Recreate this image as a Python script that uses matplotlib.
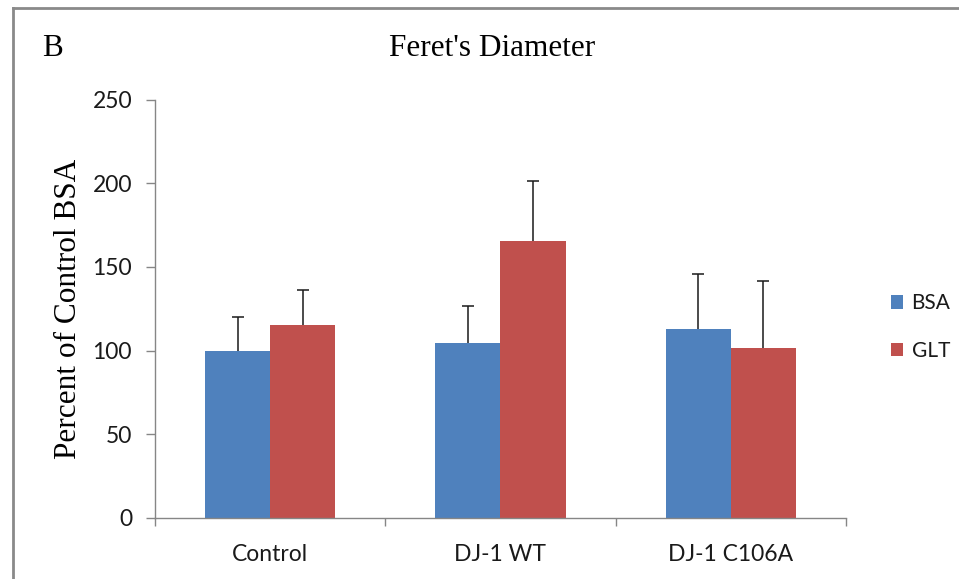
import matplotlib.pyplot as plt
from matplotlib.lines import Line2D
import numpy as np

groups = ['Control', 'DJ-1 WT', 'DJ-1 C106A']
series = ['BSA', 'GLT']
bsa_mean = [100, 104.5, 112.7]
bsa_err = [20.3, 22.0, 32.9]
glt_mean = [115.1, 165.7, 101.4]
glt_err = [21.3, 35.8, 40.4]
yticks = [0, 50, 100, 150, 200, 250]

blue = '#4F81BD'
red = '#C0504D'
axis_grey = '#868686'
text_col = '#1a1a1a'
serif = 'Liberation Serif'
sans = 'Lato'
tick_fs = 16.5

W, H = 959, 579
fig = plt.figure(figsize=(W / 100, H / 100), dpi=100)

# axes box placed in pixels
left, right, top, bottom = 155, 846, 99.5, 518
ax = fig.add_axes([left / W, (H - bottom) / H, (right - left) / W, (bottom - top) / H])

x = np.arange(len(groups))
w = 0.283
err_kw = dict(ecolor='#1a1a1a', elinewidth=1.1, capsize=4.6, capthick=1.1)
bars = [
    ax.bar(x - w / 2, bsa_mean, w, color=blue, label=series[0],
           yerr=[np.zeros(3), bsa_err], error_kw=err_kw, zorder=2),
    ax.bar(x + w / 2, glt_mean, w, color=red, label=series[1],
           yerr=[np.zeros(3), glt_err], error_kw=err_kw, zorder=2),
]
# only the upper cap is wanted
for b in bars:
    caps = b.errorbar.lines[1]
    caps[0].set_visible(False)

ax.set_xlim(-0.5, len(groups) - 0.5)
ax.set_ylim(0, 250)
ax.set_yticks(yticks)
ax.set_yticklabels([str(t) for t in yticks], fontfamily=sans, fontsize=tick_fs, color=text_col)
ax.set_xticks(x)
ax.set_xticklabels(groups, fontfamily=sans, fontsize=tick_fs, color=text_col)
ax.set_xticks(np.arange(len(groups) + 1) - 0.5, minor=True)
ax.tick_params(axis='x', which='major', length=0, pad=19)
ax.tick_params(axis='x', which='minor', length=6, width=1, color=axis_grey, direction='out')
ax.tick_params(axis='y', length=6.5, width=1, color=axis_grey, direction='out', pad=10)

for side in ['top', 'right']:
    ax.spines[side].set_visible(False)
for side in ['left', 'bottom']:
    ax.spines[side].set_color(axis_grey)
    ax.spines[side].set_linewidth(1)

ax.set_ylabel('Percent of Control BSA', fontfamily=serif, fontsize=22.5, color='black')
ax.yaxis.set_label_coords(-0.104, 0.5)

fig.text(492 / W, 1 - 48 / H, "Feret's Diameter", fontfamily=serif, fontsize=22.5,
         ha='center', va='center')
fig.text(42 / W, 1 - 48 / H, 'B', fontfamily=serif, fontsize=22.5, ha='left', va='center')

leg = ax.legend(loc='center left', bbox_to_anchor=(872 / W, 1 - 327 / H),
                bbox_transform=fig.transFigure, frameon=False,
                handlelength=0.6, handleheight=0.6, handletextpad=0.4,
                labelspacing=1.3, prop={'family': sans, 'size': 15})
for t in leg.get_texts():
    t.set_color(text_col)

# outer frame on left and top edges
fig.add_artist(Line2D([12.5 / W, 12.5 / W], [0, 1 - 8 / H], color='#8a8a8a', lw=2,
                      transform=fig.transFigure))
fig.add_artist(Line2D([12.5 / W, 1], [1 - 8 / H, 1 - 8 / H], color='#8a8a8a', lw=2,
                      transform=fig.transFigure))

fig.savefig('out.png', dpi=100)
